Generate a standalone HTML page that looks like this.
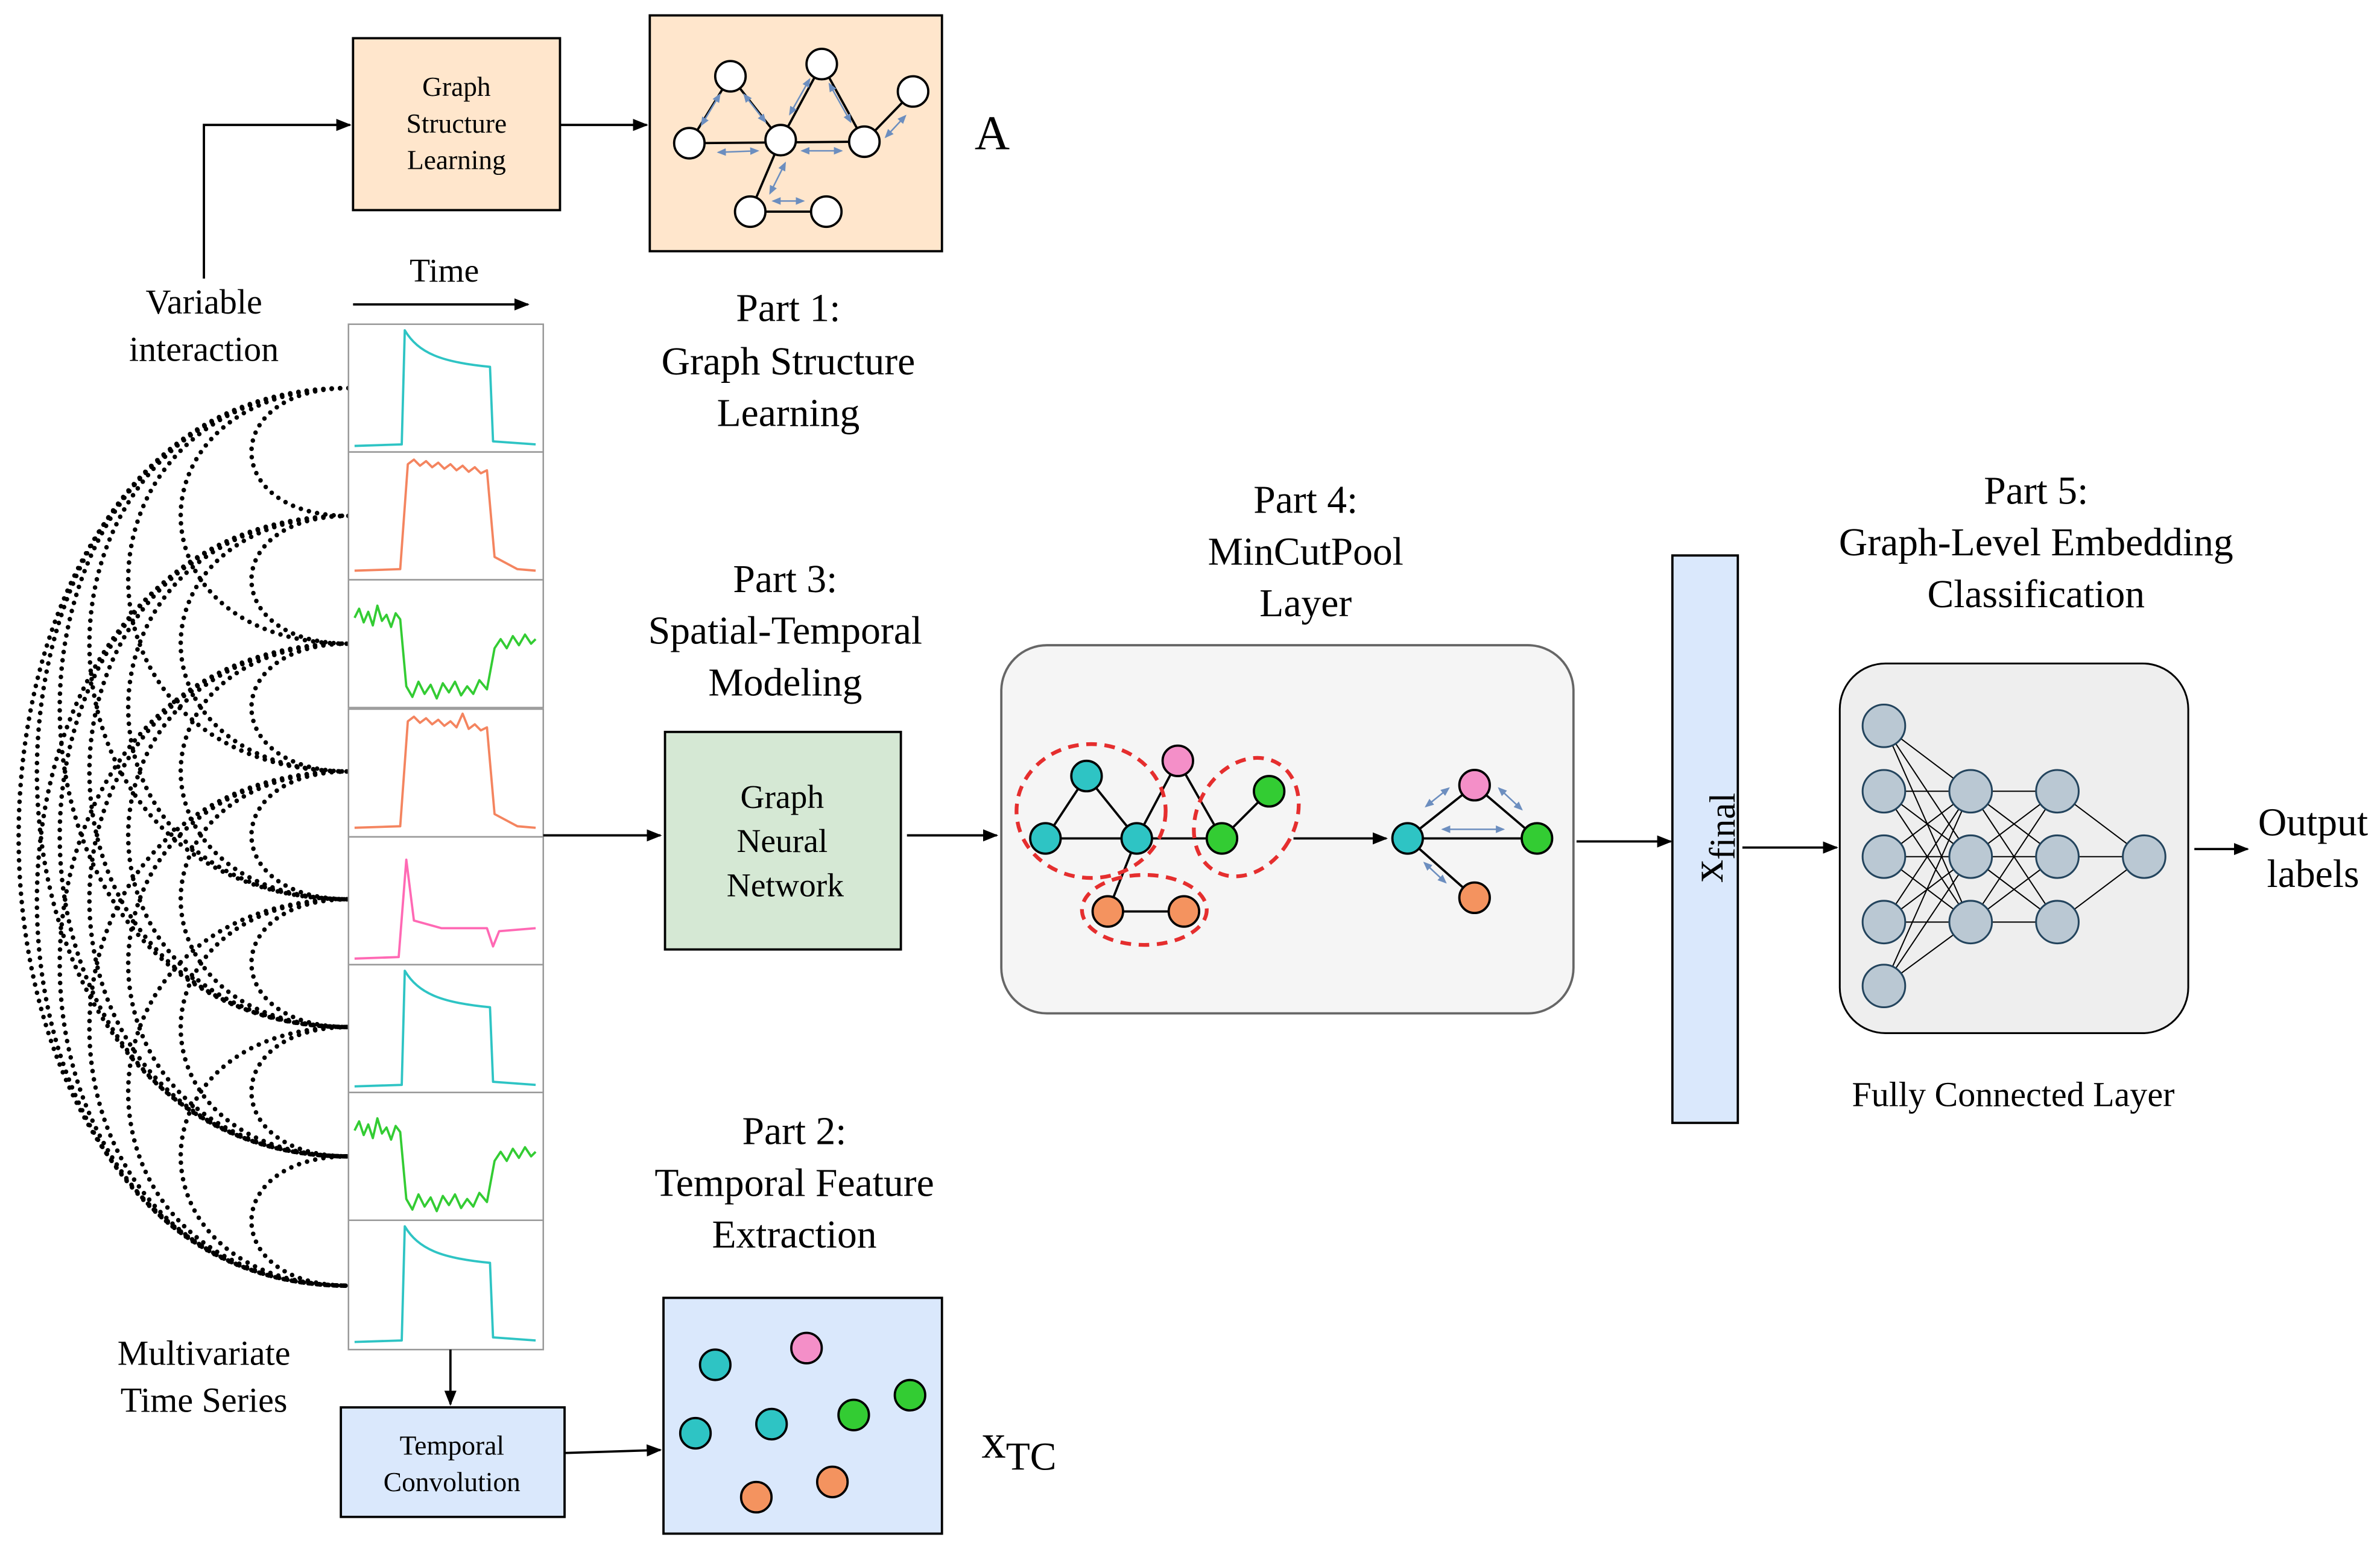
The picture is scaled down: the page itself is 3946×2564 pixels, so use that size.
<!DOCTYPE html>
<html><head><meta charset="utf-8"><style>
html,body{margin:0;padding:0;background:#fff;}
svg{display:block;}
text{font-family:"Liberation Serif",serif;fill:#000;}
</style></head><body>
<svg width="3946" height="2564" viewBox="0 0 1564 1016" xmlns="http://www.w3.org/2000/svg">
<defs>
<marker id="ar" markerWidth="10" markerHeight="10" refX="9" refY="5" orient="auto" markerUnits="userSpaceOnUse"><path d="M0,1 L10,5 L0,9 z" fill="#000"/></marker>
<marker id="ba" markerWidth="6" markerHeight="6" refX="5" refY="3" orient="auto-start-reverse" markerUnits="userSpaceOnUse"><path d="M0,0.5 L6,3 L0,5.5 z" fill="#6c8ebf"/></marker>
</defs>

<!-- Dotted arcs -->
<g fill="none" stroke="#000" stroke-width="3" stroke-linecap="round" stroke-dasharray="0 5.5">
<path d="M229,255 C144,255 144,339 229,339"/>
<path d="M229,255 C82,255 82,423 229,423"/>
<path d="M229,255 C36,255 36,507 229,507"/>
<path d="M229,255 C2,255 2,591 229,591"/>
<path d="M229,255 C-24,255 -24,675 229,675"/>
<path d="M229,255 C-44,255 -44,760 229,760"/>
<path d="M229,255 C-60,255 -60,845 229,845"/>
<path d="M229,339 C144,339 144,423 229,423"/>
<path d="M229,339 C82,339 82,507 229,507"/>
<path d="M229,339 C36,339 36,591 229,591"/>
<path d="M229,339 C2,339 2,675 229,675"/>
<path d="M229,339 C-24,339 -24,760 229,760"/>
<path d="M229,339 C-44,339 -44,845 229,845"/>
<path d="M229,423 C144,423 144,507 229,507"/>
<path d="M229,423 C82,423 82,591 229,591"/>
<path d="M229,423 C36,423 36,675 229,675"/>
<path d="M229,423 C2,423 2,760 229,760"/>
<path d="M229,423 C-24,423 -24,845 229,845"/>
<path d="M229,507 C144,507 144,591 229,591"/>
<path d="M229,507 C82,507 82,675 229,675"/>
<path d="M229,507 C36,507 36,760 229,760"/>
<path d="M229,507 C2,507 2,845 229,845"/>
<path d="M229,591 C144,591 144,675 229,675"/>
<path d="M229,591 C82,591 82,760 229,760"/>
<path d="M229,591 C36,591 36,845 229,845"/>
<path d="M229,675 C144,675 144,760 229,760"/>
<path d="M229,675 C82,675 82,845 229,845"/>
<path d="M229,760 C144,760 144,845 229,845"/>
</g>

<!-- Time series panels -->
<g fill="#fff" stroke="#999" stroke-width="1">
<rect x="229" y="213" width="128" height="84"/>
<rect x="229" y="297" width="128" height="84"/>
<rect x="229" y="381" width="128" height="84"/>
<rect x="229" y="466" width="128" height="84"/>
<rect x="229" y="550" width="128" height="84"/>
<rect x="229" y="634" width="128" height="84"/>
<rect x="229" y="718" width="128" height="84"/>
<rect x="229" y="802" width="128" height="85"/>
</g>
<g fill="none" stroke-width="1.5" stroke-linejoin="round">
<path stroke="#2ec4c4" d="M233,293 L264,292 L266,217 C275,232 290,238 322,241 L324,290 L352,292"/>
<path stroke="#f4845f" transform="translate(0,84)" d="M233,291 L263,290 L268,221 L272,218 L276,222 L280,219 L284,223 L288,220 L292,224 L296,221 L300,225 L304,222 L308,226 L312,223 L316,227 L320,225 L325,282 L340,290 L352,291"/>
<path stroke="#33cc33" transform="translate(0,168)" d="M233,238 L236,232 L239,241 L242,234 L245,243 L248,230 L251,240 L254,236 L257,244 L260,235 L263,239 L267,283 L271,290 L275,280 L279,288 L283,282 L287,291 L291,281 L295,287 L299,280 L303,289 L307,283 L311,288 L315,279 L320,285 L325,258 L329,252 L333,258 L337,250 L341,256 L345,249 L349,255 L352,252"/>
<path stroke="#f4845f" transform="translate(0,253)" d="M233,291 L263,290 L268,221 L272,218 L276,222 L280,219 L284,223 L288,220 L292,224 L296,221 L300,225 L304,216 L308,226 L312,223 L316,227 L320,225 L325,282 L340,290 L352,291"/>
<path stroke="#ff69b4" transform="translate(0,337)" d="M233,293 L262,292 L267,228 L272,268 L290,273 L320,273 L324,285 L328,275 L352,273"/>
<path stroke="#2ec4c4" transform="translate(0,421)" d="M233,293 L264,292 L266,217 C275,232 290,238 322,241 L324,290 L352,292"/>
<path stroke="#33cc33" transform="translate(0,505)" d="M233,238 L236,232 L239,241 L242,234 L245,243 L248,230 L251,240 L254,236 L257,244 L260,235 L263,239 L267,283 L271,290 L275,280 L279,288 L283,282 L287,291 L291,281 L295,287 L299,280 L303,289 L307,283 L311,288 L315,279 L320,285 L325,258 L329,252 L333,258 L337,250 L341,256 L345,249 L349,255 L352,252"/>
<path stroke="#2ec4c4" transform="translate(0,589)" d="M233,293 L264,292 L266,217 C275,232 290,238 322,241 L324,290 L352,292"/>
</g>

<!-- Arrows -->
<g stroke="#000" stroke-width="1.5" fill="none" marker-end="url(#ar)">
<path d="M134,183 L134,82 L230,82"/>
<path d="M368,82 L425,82"/>
<path d="M232,200 L347,200"/>
<path d="M296,887 L296,923"/>
<path d="M371,955 L434,953"/>
<path d="M357,549 L434,549"/>
<path d="M596,549 L655,549"/>
<path d="M1036,553 L1098,553"/>
<path d="M1145,557 L1207,557"/>
<path d="M1442,558 L1477,558"/>
</g>

<!-- Graph Structure Learning -->
<rect x="232" y="25" width="136" height="113" fill="#ffe6cc" stroke="#000" stroke-width="1.5"/>
<text x="300" y="63" font-size="18" text-anchor="middle">Graph</text>
<text x="300" y="87" font-size="18" text-anchor="middle">Structure</text>
<text x="300" y="111" font-size="18" text-anchor="middle">Learning</text>

<rect x="427" y="10" width="192" height="155" fill="#ffe6cc" stroke="#000" stroke-width="1.5"/>
<g stroke="#000" stroke-width="1.5">
<line x1="480" y1="50" x2="453" y2="94"/><line x1="480" y1="50" x2="513" y2="92"/><line x1="453" y1="94" x2="568" y2="93"/>
<line x1="540" y1="42" x2="513" y2="92"/><line x1="540" y1="42" x2="568" y2="93"/><line x1="568" y1="93" x2="600" y2="60"/>
<line x1="513" y1="92" x2="493" y2="139"/><line x1="493" y1="139" x2="543" y2="139"/>
</g>
<g stroke="#6c8ebf" stroke-width="1" marker-start="url(#ba)" marker-end="url(#ba)">
<line x1="473" y1="62" x2="461" y2="82"/><line x1="489" y1="62" x2="503" y2="80"/><line x1="472" y1="100" x2="498" y2="99"/>
<line x1="519" y1="75" x2="532" y2="52"/><line x1="545" y1="55" x2="559" y2="80"/><line x1="527" y1="99" x2="553" y2="99"/>
<line x1="582" y1="90" x2="595" y2="76"/><line x1="516" y1="107" x2="506" y2="127"/><line x1="508" y1="132" x2="528" y2="132"/>
</g>
<g fill="#fff" stroke="#000" stroke-width="1.5">
<circle cx="480" cy="50" r="10"/><circle cx="540" cy="42" r="10"/><circle cx="600" cy="60" r="10"/>
<circle cx="453" cy="94" r="10"/><circle cx="513" cy="92" r="10"/><circle cx="568" cy="93" r="10"/>
<circle cx="493" cy="139" r="10"/><circle cx="543" cy="139" r="10"/>
</g>
<text x="652" y="98" font-size="32" text-anchor="middle">A</text>

<!-- Labels -->
<text x="134" y="206" font-size="23" text-anchor="middle">Variable</text>
<text x="134" y="237" font-size="23" text-anchor="middle">interaction</text>
<text x="292" y="185" font-size="22" text-anchor="middle">Time</text>
<text x="134" y="897" font-size="23" text-anchor="middle">Multivariate</text>
<text x="134" y="928" font-size="23" text-anchor="middle">Time Series</text>

<text x="518" y="211" font-size="26" text-anchor="middle">Part 1:</text>
<text x="518" y="246" font-size="26" text-anchor="middle">Graph Structure</text>
<text x="518" y="280" font-size="26" text-anchor="middle">Learning</text>
<text x="516" y="389" font-size="26" text-anchor="middle">Part 3:</text>
<text x="516" y="423" font-size="26" text-anchor="middle">Spatial-Temporal</text>
<text x="516" y="457" font-size="26" text-anchor="middle">Modeling</text>
<text x="522" y="752" font-size="26" text-anchor="middle">Part 2:</text>
<text x="522" y="786" font-size="26" text-anchor="middle">Temporal Feature</text>
<text x="522" y="820" font-size="26" text-anchor="middle">Extraction</text>
<text x="858" y="337" font-size="26" text-anchor="middle">Part 4:</text>
<text x="858" y="371" font-size="26" text-anchor="middle">MinCutPool</text>
<text x="858" y="405" font-size="26" text-anchor="middle">Layer</text>
<text x="1338" y="331" font-size="26" text-anchor="middle">Part 5:</text>
<text x="1338" y="365" font-size="26" text-anchor="middle">Graph-Level Embedding</text>
<text x="1338" y="399" font-size="26" text-anchor="middle">Classification</text>

<!-- GNN -->
<rect x="437" y="481" width="155" height="143" fill="#d5e8d4" stroke="#000" stroke-width="1.5"/>
<text x="514" y="531" font-size="22" text-anchor="middle">Graph</text>
<text x="514" y="560" font-size="22" text-anchor="middle">Neural</text>
<text x="516" y="589" font-size="22" text-anchor="middle">Network</text>

<!-- Temporal Convolution -->
<rect x="224" y="925" width="147" height="72" fill="#dae8fc" stroke="#000" stroke-width="1.5"/>
<text x="297" y="956" font-size="18" text-anchor="middle">Temporal</text>
<text x="297" y="980" font-size="18" text-anchor="middle">Convolution</text>

<!-- XTC box -->
<rect x="436" y="853" width="183" height="155" fill="#dae8fc" stroke="#000" stroke-width="1.5"/>
<g stroke="#000" stroke-width="1.5">
<circle cx="470" cy="897" r="10" fill="#2ec4c4"/><circle cx="457" cy="942" r="10" fill="#2ec4c4"/><circle cx="507" cy="936" r="10" fill="#2ec4c4"/>
<circle cx="530" cy="886" r="10" fill="#f48fc8"/><circle cx="561" cy="930" r="10" fill="#33cc33"/><circle cx="598" cy="917" r="10" fill="#33cc33"/>
<circle cx="497" cy="984" r="10" fill="#f4935f"/><circle cx="547" cy="974" r="10" fill="#f4935f"/>
</g>
<text x="645" y="958" font-size="32">x<tspan font-size="26" dy="8">TC</tspan></text>

<!-- MinCutPool -->
<rect x="658" y="424" width="376" height="242" rx="30" fill="#f5f5f5" stroke="#666" stroke-width="1.5"/>
<path d="M850,551 L911,551" stroke="#000" stroke-width="1.5" fill="none" marker-end="url(#ar)"/>
<g stroke="#000" stroke-width="1.5">
<line x1="714" y1="510" x2="687" y2="551"/><line x1="714" y1="510" x2="747" y2="551"/><line x1="687" y1="551" x2="803" y2="551"/>
<line x1="747" y1="551" x2="774" y2="500"/><line x1="774" y1="500" x2="803" y2="551"/><line x1="803" y1="551" x2="834" y2="520"/>
<line x1="747" y1="551" x2="728" y2="599"/><line x1="728" y1="599" x2="778" y2="599"/>
<line x1="925" y1="551" x2="969" y2="516"/><line x1="969" y1="516" x2="1010" y2="551"/><line x1="925" y1="551" x2="1010" y2="551"/><line x1="925" y1="551" x2="969" y2="590"/>
</g>
<g stroke="#6c8ebf" stroke-width="1" marker-start="url(#ba)" marker-end="url(#ba)">
<line x1="937" y1="530" x2="952" y2="518"/><line x1="985" y1="518" x2="1000" y2="532"/><line x1="948" y1="545" x2="988" y2="545"/><line x1="936" y1="567" x2="950" y2="580"/>
</g>
<g fill="none" stroke="#e52e2e" stroke-width="2.5" stroke-dasharray="7 5">
<ellipse cx="717" cy="533" rx="49" ry="44"/>
<ellipse cx="819" cy="537" rx="32" ry="41" transform="rotate(30 819 537)"/>
<ellipse cx="752" cy="598" rx="41" ry="23"/>
</g>
<g stroke="#000" stroke-width="1.5">
<circle cx="714" cy="510" r="10" fill="#2ec4c4"/><circle cx="687" cy="551" r="10" fill="#2ec4c4"/><circle cx="747" cy="551" r="10" fill="#2ec4c4"/>
<circle cx="774" cy="500" r="10" fill="#f48fc8"/><circle cx="803" cy="551" r="10" fill="#33cc33"/><circle cx="834" cy="520" r="10" fill="#33cc33"/>
<circle cx="728" cy="599" r="10" fill="#f4935f"/><circle cx="778" cy="599" r="10" fill="#f4935f"/>
<circle cx="925" cy="551" r="10" fill="#2ec4c4"/><circle cx="969" cy="516" r="10" fill="#f48fc8"/><circle cx="1010" cy="551" r="10" fill="#33cc33"/><circle cx="969" cy="590" r="10" fill="#f4935f"/>
</g>

<!-- xfinal -->
<rect x="1099" y="365" width="43" height="373" fill="#dae8fc" stroke="#000" stroke-width="1.5"/>
<text transform="translate(1132,580) rotate(-90)" font-size="30">x<tspan font-size="24" dy="8">final</tspan></text>

<!-- FC -->
<rect x="1209" y="436" width="229" height="243" rx="30" fill="#eeeeee" stroke="#000" stroke-width="1.2"/>
<g stroke="#000" stroke-width="0.8">
<path d="M1238,477 L1295,520 M1238,477 L1295,563 M1238,477 L1295,606 M1238,520 L1295,520 M1238,520 L1295,563 M1238,520 L1295,606 M1238,563 L1295,520 M1238,563 L1295,563 M1238,563 L1295,606 M1238,606 L1295,520 M1238,606 L1295,563 M1238,606 L1295,606 M1238,648 L1295,520 M1238,648 L1295,563 M1238,648 L1295,606"/>
<path d="M1295,520 L1352,520 M1295,520 L1352,563 M1295,520 L1352,606 M1295,563 L1352,520 M1295,563 L1352,563 M1295,563 L1352,606 M1295,606 L1352,520 M1295,606 L1352,563 M1295,606 L1352,606"/>
<path d="M1352,520 L1409,563 M1352,563 L1409,563 M1352,606 L1409,563"/>
</g>
<g fill="#bac8d3" stroke="#23445d" stroke-width="1.2">
<circle cx="1238" cy="477" r="14"/><circle cx="1238" cy="520" r="14"/><circle cx="1238" cy="563" r="14"/><circle cx="1238" cy="606" r="14"/><circle cx="1238" cy="648" r="14"/>
<circle cx="1295" cy="520" r="14"/><circle cx="1295" cy="563" r="14"/><circle cx="1295" cy="606" r="14"/>
<circle cx="1352" cy="520" r="14"/><circle cx="1352" cy="563" r="14"/><circle cx="1352" cy="606" r="14"/>
<circle cx="1409" cy="563" r="14"/>
</g>
<text x="1323" y="727" font-size="23" text-anchor="middle">Fully Connected Layer</text>
<text x="1520" y="549" font-size="26" text-anchor="middle">Output</text>
<text x="1520" y="583" font-size="26" text-anchor="middle">labels</text>
</svg>
</body></html>
